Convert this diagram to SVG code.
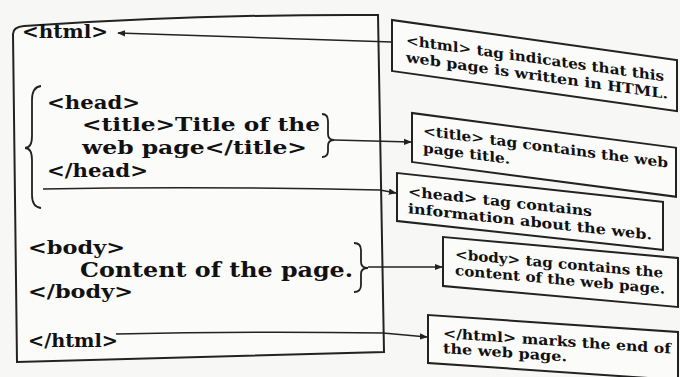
<svg xmlns="http://www.w3.org/2000/svg" width="680" height="377" viewBox="0 0 680 377">
<defs>
<style>
.code{font-family:"DejaVu Serif","Liberation Serif",serif;font-weight:bold;fill:#111;}
.note{font-family:"DejaVu Serif","Liberation Serif",serif;font-weight:bold;font-size:14px;fill:#111;}
.box{fill:#fbfbfa;stroke:#222;stroke-width:2;}
.line{fill:none;stroke:#222;stroke-width:1.6;}
.brace{fill:none;stroke:#222;stroke-width:1.8;}
</style>
<marker id="arr" viewBox="0 0 10 10" refX="9" refY="5" markerWidth="5" markerHeight="5" orient="auto">
<path d="M0,1 L10,5 L0,9 Z" fill="#222"/>
</marker>
</defs>
<rect width="680" height="377" fill="#f7f7f5"/>

<g id="page">
<path d="M13,34 Q13,27 24,26 Q200,14 378,15 L384,352 L17,362 Z" fill="#fbfbfa" stroke="#222" stroke-width="2"/>
<text class="code" x="22" y="38" font-size="19" textLength="86" lengthAdjust="spacingAndGlyphs">&lt;html&gt;</text>
<path class="brace" d="M41,86 Q32,87 32,100 L32,136 Q32,148 25,148 Q32,148 32,160 L32,195 Q32,207 41,208"/>
<text class="code" x="47" y="109" font-size="19" textLength="93" lengthAdjust="spacingAndGlyphs">&lt;head&gt;</text>
<text class="code" x="82" y="131" font-size="19" textLength="238" lengthAdjust="spacingAndGlyphs">&lt;title&gt;Title of the</text>
<text class="code" x="82" y="154" font-size="19" textLength="225" lengthAdjust="spacingAndGlyphs">web page&lt;/title&gt;</text>
<text class="code" x="47" y="177" font-size="19" textLength="101" lengthAdjust="spacingAndGlyphs">&lt;/head&gt;</text>
<path class="brace" d="M322,114 Q328,114 328,121 L328,134 Q328,140 334,140 Q328,140 328,146 L328,151 Q328,157 322,157"/>
<text class="code" x="28" y="254" font-size="19" textLength="97" lengthAdjust="spacingAndGlyphs">&lt;body&gt;</text>
<text class="code" x="80" y="277" font-size="20" textLength="273" lengthAdjust="spacingAndGlyphs">Content of the page.</text>
<text class="code" x="28" y="298" font-size="19" textLength="105" lengthAdjust="spacingAndGlyphs">&lt;/body&gt;</text>
<path class="brace" d="M354,243 Q361,243 361,250 L361,262 Q361,268 368,268 Q361,268 361,274 L361,285 Q361,292 354,292"/>
<text class="code" x="28" y="347" font-size="19" textLength="90" lengthAdjust="spacingAndGlyphs">&lt;/html&gt;</text>
</g>

<g id="connectors">
<line class="line" x1="392" y1="42" x2="118" y2="33" marker-end="url(#arr)"/>
<line class="line" x1="334" y1="140" x2="411" y2="142" marker-end="url(#arr)"/>
<path class="line" d="M43,189 Q200,186 380,190 L396,193" marker-end="url(#arr)"/>
<line class="line" x1="368" y1="267" x2="442" y2="267" marker-end="url(#arr)"/>
<path class="line" d="M116,334 Q250,331 383,333 L427,337" marker-end="url(#arr)"/>
</g>

<g id="note-html" transform="translate(392,20) skewY(8)">
<rect class="box" x="0" y="0" width="285" height="51"/>
<text class="note" x="14" y="23" textLength="258" lengthAdjust="spacingAndGlyphs">&lt;html&gt; tag indicates that this</text>
<text class="note" x="14" y="40" textLength="262" lengthAdjust="spacingAndGlyphs">web page is written in HTML.</text>
</g>

<g id="note-title" transform="translate(412,113) skewY(7.5)">
<rect class="box" x="0" y="0" width="264" height="49"/>
<text class="note" x="11" y="21" textLength="245" lengthAdjust="spacingAndGlyphs">&lt;title&gt; tag contains the web</text>
<text class="note" x="11" y="38" textLength="87" lengthAdjust="spacingAndGlyphs">page title.</text>
</g>

<g id="note-head" transform="translate(397,173) skewY(6.2)">
<rect class="box" x="0" y="0" width="266" height="48"/>
<text class="note" x="11" y="22" textLength="184" lengthAdjust="spacingAndGlyphs">&lt;head&gt; tag contains</text>
<text class="note" x="11" y="39" textLength="244" lengthAdjust="spacingAndGlyphs">information about the web.</text>
</g>

<g id="note-body" transform="translate(443,237) skewY(5.1)">
<rect class="box" x="0" y="0" width="235" height="49"/>
<text class="note" x="12" y="21" textLength="208" lengthAdjust="spacingAndGlyphs">&lt;body&gt; tag contains the</text>
<text class="note" x="12" y="37" textLength="210" lengthAdjust="spacingAndGlyphs">content of the web page.</text>
</g>

<g id="note-endhtml" transform="translate(428,315) skewY(3.9)">
<rect class="box" x="0" y="0" width="250" height="48"/>
<text class="note" x="15" y="22" textLength="228" lengthAdjust="spacingAndGlyphs">&lt;/html&gt; marks the end of</text>
<text class="note" x="15" y="37" textLength="124" lengthAdjust="spacingAndGlyphs">the web page.</text>
</g>
</svg>
